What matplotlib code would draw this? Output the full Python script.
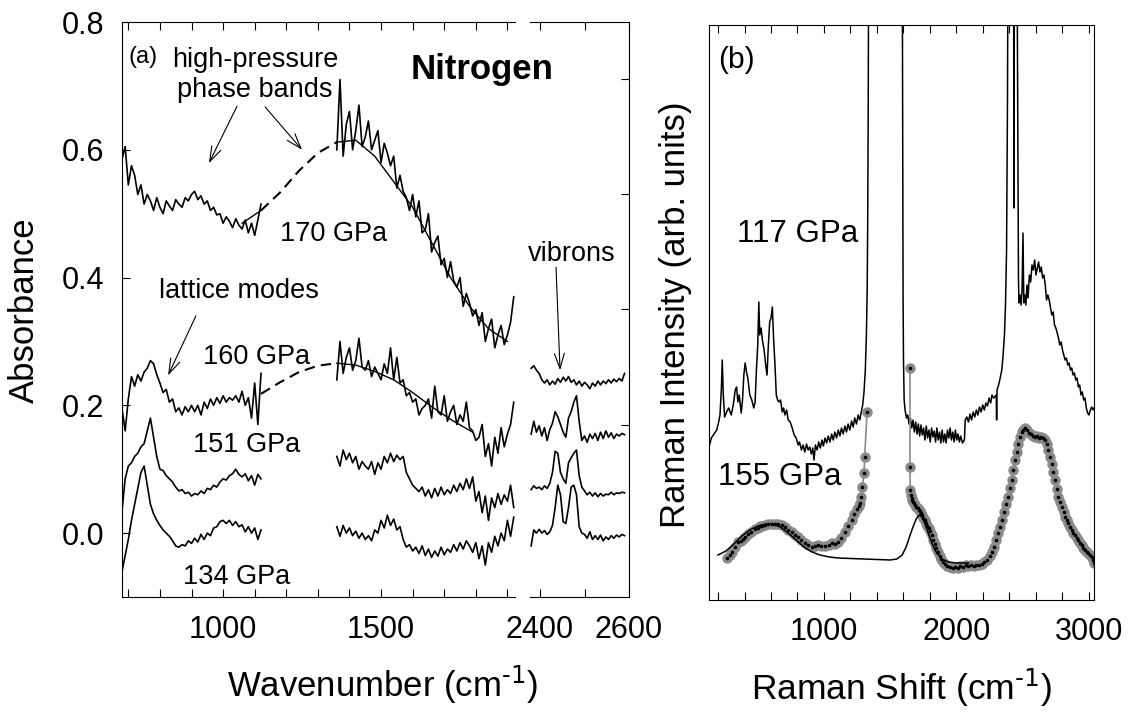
import numpy as np
import matplotlib.pyplot as plt

plt.rcParams['font.family'] = 'Liberation Sans'
plt.rcParams['mathtext.default'] = 'regular'

# ---- panel (a): IR absorbance of nitrogen, two wavenumber windows ----
wn_lo = np.linspace(680, 1120, 45)
wn_hi = np.linspace(1360, 1920, 57)
wn_vib = np.linspace(2380, 2590, 36)

abs170_lo = [0.585, 0.605, 0.545, 0.575, 0.56, 0.53, 0.545, 0.515, 0.53, 0.52,
             0.505, 0.525, 0.51, 0.50, 0.52, 0.512, 0.505, 0.522, 0.515, 0.51,
             0.525, 0.52, 0.53, 0.535, 0.522, 0.528, 0.515, 0.52, 0.505, 0.51,
             0.498, 0.50, 0.485, 0.495, 0.488, 0.478, 0.492, 0.482, 0.476, 0.49,
             0.47, 0.485, 0.466, 0.49, 0.515]
abs170_hi = [0.60, 0.71, 0.59, 0.64, 0.66, 0.60, 0.63, 0.67, 0.605, 0.62,
             0.645, 0.60, 0.615, 0.63, 0.58, 0.61, 0.595, 0.575, 0.59, 0.54,
             0.56, 0.535, 0.525, 0.505, 0.53, 0.495, 0.52, 0.47, 0.475, 0.50,
             0.44, 0.455, 0.465, 0.42, 0.43, 0.40, 0.425, 0.395, 0.385, 0.40,
             0.355, 0.375, 0.36, 0.34, 0.35, 0.325, 0.345, 0.30, 0.32, 0.335,
             0.29, 0.31, 0.325, 0.295, 0.31, 0.33, 0.37]
abs160_lo = [0.195, 0.16, 0.21, 0.245, 0.23, 0.248, 0.238, 0.252, 0.258, 0.27,
             0.265, 0.248, 0.235, 0.22, 0.225, 0.205, 0.21, 0.19, 0.196, 0.185,
             0.198, 0.19, 0.2, 0.19, 0.2, 0.185, 0.205, 0.195, 0.21, 0.2,
             0.212, 0.203, 0.215, 0.205, 0.212, 0.208, 0.215, 0.205, 0.222, 0.2,
             0.212, 0.18, 0.235, 0.17, 0.25]
abs160_hi = [0.24, 0.30, 0.25, 0.275, 0.29, 0.255, 0.27, 0.305, 0.26, 0.255,
             0.27, 0.245, 0.26, 0.25, 0.24, 0.265, 0.25, 0.29, 0.24, 0.275,
             0.235, 0.24, 0.215, 0.22, 0.205, 0.21, 0.185, 0.195, 0.2, 0.21,
             0.18, 0.23, 0.19, 0.185, 0.215, 0.175, 0.19, 0.2, 0.17, 0.185,
             0.175, 0.205, 0.165, 0.16, 0.145, 0.15, 0.17, 0.12, 0.14, 0.105,
             0.15, 0.125, 0.165, 0.135, 0.155, 0.17, 0.205]
abs151_lo = [0.035, 0.085, 0.105, 0.11, 0.12, 0.125, 0.135, 0.14, 0.16, 0.18,
             0.15, 0.12, 0.1, 0.098, 0.09, 0.085, 0.08, 0.072, 0.066, 0.068,
             0.062, 0.064, 0.058, 0.062, 0.06, 0.066, 0.062, 0.07, 0.068, 0.075,
             0.072, 0.08, 0.085, 0.083, 0.09, 0.093, 0.1, 0.092, 0.088, 0.093,
             0.082, 0.09, 0.075, 0.092, 0.085]
abs151_hi = [0.12, 0.105, 0.13, 0.115, 0.125, 0.11, 0.12, 0.1, 0.112, 0.105,
             0.1, 0.112, 0.092, 0.11, 0.1, 0.12, 0.11, 0.125, 0.112, 0.122,
             0.115, 0.12, 0.095, 0.085, 0.075, 0.07, 0.065, 0.072, 0.058, 0.068,
             0.055, 0.07, 0.058, 0.072, 0.06, 0.068, 0.062, 0.075, 0.065, 0.078,
             0.068, 0.085, 0.07, 0.088, 0.05, 0.065, 0.032, 0.058, 0.02, 0.055,
             0.04, 0.062, 0.045, 0.06, 0.05, 0.075, 0.04]
abs134_lo = [-0.06, -0.035, -0.01, 0.02, 0.045, 0.07, 0.095, 0.105, 0.075, 0.045,
             0.03, 0.02, 0.012, 0.005, 0.0, -0.005, -0.012, -0.02, -0.022, -0.018,
             -0.02, -0.012, -0.016, -0.008, -0.014, -0.002, -0.01, 0.0, -0.004, 0.008,
             0.01, 0.018, 0.02, 0.015, 0.02, 0.012, 0.018, 0.01, 0.013, 0.002,
             0.01, 0.0, 0.008, -0.01, 0.005]
abs134_hi = [0.01, -0.005, 0.012, 0.0, 0.008, -0.004, 0.003, -0.008, 0.0, -0.01,
             -0.004, -0.012, 0.005, 0.0, 0.02, 0.008, 0.028, 0.012, 0.022, 0.005,
             0.01, -0.01, -0.022, -0.018, -0.028, -0.022, -0.032, -0.02, -0.035, -0.025,
             -0.038, -0.028, -0.036, -0.022, -0.034, -0.025, -0.03, -0.018, -0.028, -0.015,
             -0.025, -0.012, -0.02, -0.03, -0.015, -0.04, -0.02, -0.05, -0.015, -0.03,
             -0.005, -0.02, 0.0, -0.012, 0.02, -0.005, 0.025]

# vibron window (same pressures, top to bottom)
vib170 = [0.258, 0.262, 0.255, 0.25, 0.24, 0.235, 0.24, 0.232, 0.238, 0.233,
          0.242, 0.236, 0.244, 0.238, 0.245, 0.236, 0.24, 0.232, 0.238, 0.23,
          0.236, 0.232, 0.226, 0.235, 0.23, 0.238, 0.232, 0.238, 0.234, 0.24,
          0.235, 0.241, 0.237, 0.242, 0.238, 0.25]
vib160 = [0.155, 0.175, 0.158, 0.168, 0.152, 0.165, 0.145, 0.162, 0.172, 0.19,
          0.182, 0.17, 0.158, 0.15, 0.18, 0.19, 0.205, 0.215, 0.175, 0.145,
          0.152, 0.142, 0.155, 0.148, 0.156, 0.145, 0.158, 0.148, 0.16, 0.15,
          0.157, 0.148, 0.155, 0.152, 0.156, 0.154]
vib151 = [0.068, 0.074, 0.07, 0.072, 0.068, 0.074, 0.07, 0.078, 0.095, 0.128,
          0.125, 0.095, 0.085, 0.078, 0.11, 0.118, 0.125, 0.13, 0.09, 0.072,
          0.066, 0.06, 0.064, 0.058, 0.063, 0.057, 0.062, 0.058, 0.061, 0.06,
          0.064, 0.06, 0.063, 0.062, 0.064, 0.063]
vib134 = [-0.02, 0.005, 0.0, 0.006, 0.0, 0.004, -0.002, 0.002, 0.012, 0.04,
          0.075, 0.06, 0.018, 0.015, 0.04, 0.072, 0.075, 0.06, 0.01, 0.0,
          -0.002, -0.008, 0.002, -0.01, -0.004, -0.01, -0.003, -0.012, -0.006, -0.01,
          -0.004, -0.008, -0.003, -0.006, -0.002, -0.004]

# smooth band fits (dashed across the unmeasured window)
fit170_x = [1060, 1120, 1180, 1240, 1300, 1360, 1420, 1480, 1540, 1600, 1660, 1720, 1780, 1840, 1900]
fit170_y = [0.485, 0.505, 0.533, 0.567, 0.595, 0.612, 0.615, 0.59, 0.55, 0.51, 0.455, 0.40, 0.355, 0.32, 0.30]
fit160_x = [1120, 1180, 1240, 1300, 1360, 1420, 1480, 1540, 1600, 1660, 1720, 1790]
fit160_y = [0.218, 0.236, 0.252, 0.262, 0.266, 0.263, 0.253, 0.240, 0.220, 0.198, 0.178, 0.158]

# ---- panel (b): Raman spectra ----
r117_x = [132, 150, 170, 190, 205, 215, 225, 232, 240, 250, 265, 280, 300, 315, 330, 340, 350, 360,
          375, 385, 395, 405, 415, 425, 440, 455, 470, 480, 490, 500, 508, 515, 525, 535, 548, 560,
          570, 580, 590, 600, 610, 620, 630, 640, 650, 660, 672, 685, 695, 705, 718, 730, 745, 760,
          775, 790, 805, 815, 830, 842, 855, 868, 880, 892, 905, 915, 925, 935, 948, 960, 972, 985,
          995, 1008, 1020, 1032, 1045, 1058, 1070, 1082, 1095, 1108, 1120, 1132, 1145, 1158, 1170,
          1182, 1195, 1208, 1220, 1232, 1245, 1258, 1270, 1282, 1292, 1302, 1312, 1320, 1326, 1330,
          1334, 1338, 1590, 1594, 1597, 1600, 1605, 1612, 1622, 1632, 1642, 1652, 1662, 1672, 1682,
          1692, 1702, 1712, 1722, 1732, 1742, 1752, 1762, 1772, 1782, 1792, 1802, 1812, 1822, 1832,
          1842, 1852, 1862, 1872, 1882, 1892, 1902, 1912, 1922, 1932, 1942, 1952, 1962, 1972, 1982,
          1992, 2002, 2012, 2022, 2032, 2045, 2060, 2066, 2078, 2090, 2102, 2114, 2126, 2138, 2150,
          2162, 2174, 2186, 2198, 2210, 2222, 2234, 2246, 2258, 2268, 2280, 2300, 2303, 2306, 2318,
          2330, 2342, 2352, 2362, 2370, 2378, 2385, 2390, 2420, 2430, 2434, 2438, 2455, 2462, 2464,
          2468, 2472, 2480, 2488, 2495, 2502, 2508, 2516, 2524, 2532, 2540, 2550, 2560, 2570, 2580,
          2590, 2600, 2610, 2620, 2630, 2640, 2650, 2660, 2670, 2680, 2690, 2700, 2710, 2720, 2730,
          2740, 2750, 2760, 2770, 2780, 2790, 2800, 2810, 2820, 2830, 2840, 2850, 2860, 2870, 2880,
          2890, 2900, 2910, 2920, 2930, 2940, 2950, 2960, 2970, 2980, 2990, 3000, 3010, 3020, 3030, 3038]
r117_y = [1.53, 1.62, 1.66, 1.70, 1.78, 1.85, 2.10, 2.40, 2.05, 1.83, 1.88, 1.92, 1.85, 1.95, 2.10, 2.13, 1.98, 2.05,
          1.87, 2.00, 2.25, 2.37, 2.28, 2.22, 2.05, 2.00, 1.92, 1.98, 2.30, 2.55, 2.98, 2.65, 2.72, 2.60, 2.50, 2.35,
          2.25, 2.55, 2.78, 2.82, 2.93, 2.60, 2.35, 2.05, 2.00, 1.98, 2.00, 1.88, 1.92, 1.85, 1.90, 1.80, 1.78, 1.72,
          1.65, 1.62, 1.55, 1.58, 1.50, 1.55, 1.48, 1.56, 1.50, 1.53, 1.46, 1.52, 1.40, 1.55, 1.50, 1.58, 1.52, 1.60,
          1.54, 1.62, 1.57, 1.64, 1.58, 1.66, 1.60, 1.68, 1.62, 1.70, 1.64, 1.72, 1.66, 1.74, 1.68,
          1.76, 1.70, 1.79, 1.73, 1.82, 1.76, 1.85, 1.80, 1.88, 1.95, 2.08, 2.30, 2.65, 3.1, 3.8,
          5.0, 7.0, 7.0, 4.5, 3.0, 2.4, 2.0, 1.90, 1.82, 1.85, 1.76, 1.82, 1.72, 1.80, 1.68,
          1.78, 1.66, 1.76, 1.64, 1.75, 1.65, 1.72, 1.60, 1.74, 1.62, 1.70, 1.58, 1.72, 1.63, 1.69,
          1.58, 1.72, 1.60, 1.68, 1.57, 1.70, 1.58, 1.66, 1.57, 1.70, 1.62, 1.72, 1.60, 1.68, 1.58,
          1.70, 1.60, 1.66, 1.58, 1.64, 1.57, 1.60, 1.80, 1.83, 1.78, 1.86, 1.80, 1.88, 1.83, 1.90,
          1.85, 1.93, 1.88, 1.95, 1.90, 1.97, 1.94, 2.02, 1.97, 2.05, 2.02, 2.05, 1.80, 2.10, 2.15,
          2.22, 2.30, 2.45, 2.65, 2.95, 3.5, 5.0, 7.0, 7.0, 7.0, 3.92, 7.0, 7.0, 5.07, 4.42,
          3.2, 2.97, 3.05, 2.95, 3.1, 3.67, 2.97, 3.05, 2.95, 3.15, 3.02, 3.25, 3.18, 3.35, 3.30,
          3.40, 3.25, 3.32, 3.38, 3.28, 3.33, 3.22, 3.25, 3.15, 3.0, 3.05, 3.0, 2.92, 2.85, 2.88,
          2.75, 2.72, 2.67, 2.62, 2.55, 2.58, 2.50, 2.45, 2.40, 2.42, 2.35, 2.37, 2.30, 2.32, 2.25,
          2.27, 2.20, 2.22, 2.13, 2.15, 2.05, 2.08, 2.0, 2.02, 1.92, 1.87, 1.85, 1.90, 1.93, 1.90, 1.92]

r155_left_x = [268, 290, 306, 330, 351, 370, 387, 405, 426, 450, 479, 500, 517, 535, 555, 580, 608, 630,
               653, 680, 706, 730, 758, 780, 804, 830, 857, 880, 909, 930, 955, 980, 1008, 1035, 1060,
               1085, 1106, 1131, 1158, 1183, 1208, 1230, 1249, 1262, 1272, 1283, 1290, 1302, 1307, 1325]
r155_left_y = [0.42, 0.45, 0.48, 0.53, 0.58, 0.59, 0.61, 0.63, 0.66, 0.68, 0.71, 0.72, 0.74, 0.745, 0.75, 0.76,
               0.765, 0.765, 0.76, 0.75, 0.73, 0.70, 0.68, 0.65, 0.63, 0.60, 0.57, 0.55, 0.53, 0.54, 0.55,
               0.545, 0.54, 0.55, 0.57, 0.56, 0.58, 0.62, 0.68, 0.74, 0.80, 0.86, 0.91, 0.94, 0.97, 1.03,
               1.13, 1.27, 1.43, 1.88]
r155_right_x = [1649, 1649, 1651, 1656, 1662, 1668, 1675, 1682, 1690, 1698, 1706, 1714, 1722, 1730, 1740,
                1750, 1760, 1770, 1780, 1790, 1800, 1812, 1824, 1836, 1848, 1860, 1872, 1885, 1898, 1912,
                1930, 1950, 1970, 1990, 2010, 2030, 2050, 2070, 2090, 2110, 2130, 2150, 2170, 2190, 2210,
                2230, 2250, 2268, 2285, 2300, 2315, 2330, 2345, 2360, 2375, 2390, 2405, 2418, 2430, 2442,
                2455, 2467, 2480, 2492, 2505, 2518, 2530, 2545, 2560, 2575, 2590, 2605, 2620, 2635, 2650,
                2665, 2680, 2693, 2706, 2718, 2730, 2744, 2757, 2770, 2782, 2795, 2808, 2820, 2833, 2845,
                2858, 2870, 2883, 2895, 2908, 2920, 2933, 2945, 2958, 2970, 2983, 2995, 3008, 3020, 3030, 3036]
r155_right_y = [2.32, 1.33, 1.10, 1.05, 1.02, 1.0, 0.98, 0.97, 0.95, 0.93, 0.92, 0.90, 0.89, 0.87, 0.85,
                0.82, 0.80, 0.77, 0.74, 0.72, 0.69, 0.65, 0.60, 0.56, 0.52, 0.48, 0.44, 0.41, 0.38, 0.36,
                0.34, 0.33, 0.32, 0.33, 0.32, 0.34, 0.33, 0.35, 0.34, 0.35, 0.34, 0.35, 0.35, 0.36, 0.38,
                0.40, 0.44, 0.48, 0.53, 0.60, 0.67, 0.73, 0.80, 0.88, 0.96, 1.03, 1.12, 1.20, 1.30, 1.40,
                1.48, 1.56, 1.63, 1.68, 1.70, 1.72, 1.70, 1.67, 1.66, 1.64, 1.63, 1.64, 1.62, 1.63, 1.62,
                1.60, 1.56, 1.50, 1.43, 1.36, 1.28, 1.20, 1.11, 1.03, 0.98, 0.93, 0.88, 0.83, 0.80, 0.77,
                0.73, 0.70, 0.67, 0.65, 0.62, 0.60, 0.57, 0.55, 0.52, 0.50, 0.48, 0.47, 0.45, 0.43, 0.40, 0.37]
fit155_x = [200, 260, 320, 380, 440, 500, 560, 615, 670, 730, 790, 850, 910, 970, 1040, 1110, 1200, 1300,
            1400, 1500, 1550, 1590, 1620, 1650, 1680, 1700, 1720, 1740, 1760, 1790, 1820, 1850, 1890,
            1940, 2000, 2090]
fit155_y = [0.45, 0.49, 0.56, 0.64, 0.70, 0.74, 0.76, 0.76, 0.73, 0.67, 0.60, 0.53, 0.48, 0.45, 0.43, 0.42,
            0.415, 0.41, 0.405, 0.40, 0.41, 0.45, 0.53, 0.65, 0.76, 0.82, 0.85, 0.83, 0.77, 0.66, 0.55,
            0.47, 0.41, 0.38, 0.37, 0.37]

W, H = 1128, 715
fig = plt.figure(figsize=(W / 100, H / 100), dpi=100)
ax1 = fig.add_axes([122 / W, 1 - 597 / H, 393 / W, 575 / H])
ax2 = fig.add_axes([530 / W, 1 - 597 / H, 99 / W, 575 / H])
ax3 = fig.add_axes([709 / W, 1 - 600 / H, 385 / W, 575 / H])
ax2.patch.set_visible(False)

lw_data = 1.2
for lo, hi in [(abs170_lo, abs170_hi), (abs160_lo, abs160_hi),
               (abs151_lo, abs151_hi), (abs134_lo, abs134_hi)]:
    ax1.plot(wn_lo, lo, color='k', lw=lw_data)
    ax1.plot(wn_hi, hi, color='k', lw=lw_data)

for fx, fy in [(fit170_x, fit170_y), (fit160_x, fit160_y)]:
    fx = np.array(fx)
    fy = np.array(fy)
    gap = (fx >= 1120) & (fx <= 1360)
    ax1.plot(fx[gap], fy[gap], color='k', lw=1.5, dashes=(5, 3))
    ax1.plot(fx[fx <= 1120], fy[fx <= 1120], color='k', lw=1.0)
    ax1.plot(fx[fx >= 1360], fy[fx >= 1360], color='k', lw=1.0)

for v in [vib170, vib160, vib151, vib134]:
    ax2.plot(wn_vib, v, color='k', lw=lw_data)

ax1.set_xlim(680, 1924)
ax2.set_xlim(2377.5, 2600)
for ax in (ax1, ax2):
    ax.set_ylim(-0.1, 0.8)
    for s in ax.spines.values():
        s.set_linewidth(0.8)
ax1.spines['right'].set_visible(False)
ax2.spines['left'].set_visible(False)

ax1.set_xticks([1000, 1500])
ax1.set_xticks(np.arange(700, 1901, 100), minor=True)
ax1.set_yticks([0.0, 0.2, 0.4, 0.6, 0.8])
ax1.tick_params(which='both', direction='in', top=True, right=False,
                length=6, width=0.8, labelsize=22, pad=13)

ax2.set_xticks([2400, 2600])
ax2.set_xticks([2500], minor=True)
ax2.set_yticks([0.711, 0.531, 0.351, 0.169])
ax2.tick_params(which='both', direction='in', top=True, left=False, right=True,
                labelleft=False, length=6, width=0.8, labelsize=22, pad=13)

arrow = dict(arrowstyle='->,head_length=0.9,head_width=0.3', lw=0.8, color='k',
             shrinkA=0, shrinkB=0, mutation_scale=12)
ax1.annotate('', xy=(955, 0.579), xytext=(1044, 0.668), arrowprops=arrow)
ax1.annotate('', xy=(1250, 0.600), xytext=(1133, 0.667), arrowprops=arrow)
ax1.annotate('', xy=(826, 0.247), xytext=(914, 0.340), arrowprops=arrow)
ax2.annotate('', xy=(2445, 0.255), xytext=(2436, 0.416), arrowprops=arrow)

fs = 19.5
ax1.text(699, 0.736, '(a)', fontsize=17, ha='left', va='baseline')
ax1.text(1101, 0.730, 'high-pressure', fontsize=fs, ha='center', va='baseline')
ax1.text(1101, 0.683, 'phase bands', fontsize=fs, ha='center', va='baseline')
ax1.text(1351, 0.457, '170 GPa', fontsize=fs, ha='center', va='baseline')
ax1.text(1050, 0.368, 'lattice modes', fontsize=fs, ha='center', va='baseline')
ax1.text(1107, 0.265, '160 GPa', fontsize=fs, ha='center', va='baseline')
ax1.text(1076, 0.127, '151 GPa', fontsize=fs, ha='center', va='baseline')
ax1.text(1044, -0.080, '134 GPa', fontsize=fs, ha='center', va='baseline')
ax2.text(2472, 0.426, 'vibrons', fontsize=fs, ha='center', va='baseline')
fig.text(482 / W, 1 - 79 / H, 'Nitrogen', fontsize=25, fontweight='bold', ha='center', va='baseline')

# panel (b)
grey = '#8a8a8a'
ax3.plot(r117_x, r117_y, color='k', lw=1.1)
for rx, ry in [(r155_left_x, r155_left_y), (r155_right_x, r155_right_y)]:
    ax3.plot(rx, ry, color=grey, lw=1.2, marker='o', ms=6.5, mfc=grey, mec=grey)
    ax3.plot(rx, ry, ls='none', marker='o', ms=1.6, color='k')
ax3.plot(fit155_x, fit155_y, color='k', lw=1.1)

ax3.set_xlim(132, 3038)
ax3.set_ylim(0, 5.75)
ax3.set_xticks([1000, 2000, 3000])
ax3.set_xticks(np.arange(200, 3001, 200), minor=True)
ax3.set_yticks([])
ax3.tick_params(which='both', direction='in', top=True, length=6, width=0.8,
                labelsize=22, pad=12)
for s in ax3.spines.values():
    s.set_linewidth(0.8)

ax3.text(200, 5.32, '(b)', fontsize=21.5, ha='left', va='baseline')
ax3.text(343, 3.58, '117 GPa', fontsize=22.5, ha='left', va='baseline')
ax3.text(200, 1.15, '155 GPa', fontsize=22.5, ha='left', va='baseline')

fig.text(383 / W, 1 - 697 / H, 'Wavenumber (cm$^{\\text{-1}}$)', fontsize=25, ha='center', va='baseline')
fig.text(902 / W, 1 - 700 / H, 'Raman Shift (cm$^{\\text{-1}}$)', fontsize=25.5, ha='center', va='baseline')
fig.text(24 / W, 1 - 310 / H, 'Absorbance', fontsize=25, rotation=90, ha='center', va='center')
fig.text(675 / W, 1 - 315 / H, 'Raman Intensity (arb. units)', fontsize=25, rotation=90,
         ha='center', va='center')

fig.savefig('out.png', dpi=100)
